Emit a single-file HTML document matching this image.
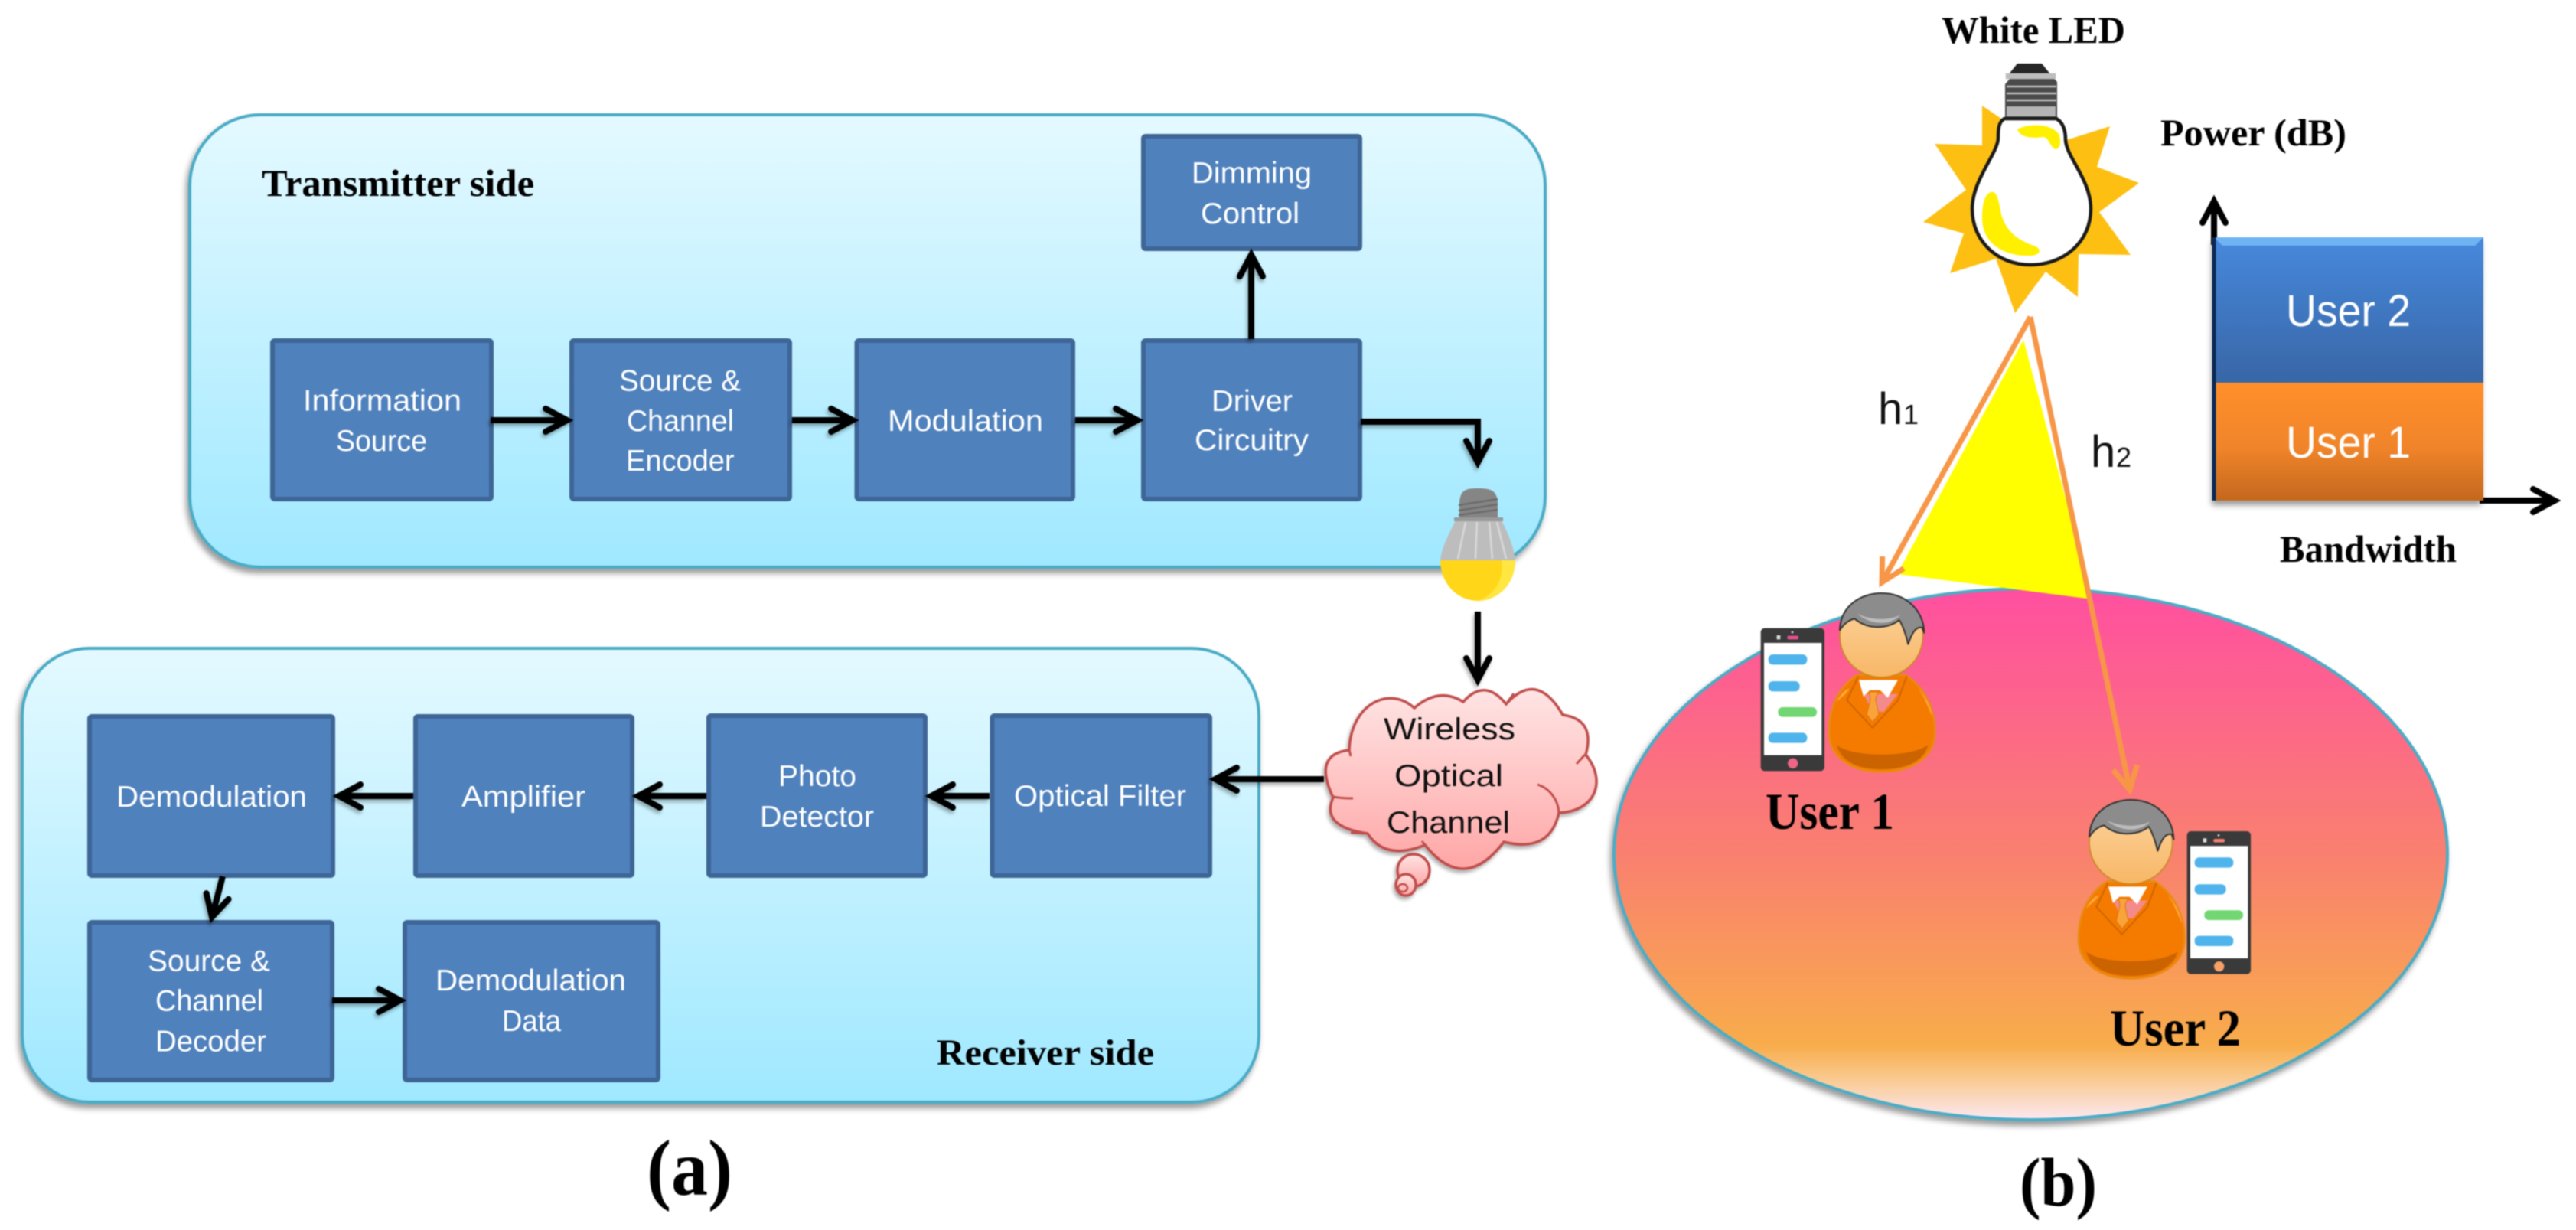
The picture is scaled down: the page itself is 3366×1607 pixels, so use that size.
<!DOCTYPE html>
<html lang="en">
<head>
<meta charset="utf-8">
<title>Diagram</title>
<style>
html,body{margin:0;padding:0;background:#fff;width:3366px;height:1607px;overflow:hidden}
svg{display:block;filter:blur(.8px)}
.b{fill:#4f81bd;stroke:#3e6596;stroke-width:6}
.t{font-family:"Liberation Sans",sans-serif;font-size:39px;fill:#fff}
.k{font-family:"Liberation Sans",sans-serif;font-size:40px;fill:#111}
.s{font-family:"Liberation Serif",serif;font-weight:bold;fill:#000}
.a{fill:none;stroke:#000;stroke-width:8}
.o{fill:none;stroke:#f79646;stroke-width:7}
</style>
</head>
<body>
<svg xmlns="http://www.w3.org/2000/svg" width="3366" height="1607" viewBox="0 0 3366 1607">
<defs>
<linearGradient id="lb" x1="0" y1="0" x2="0" y2="1"><stop offset="0" stop-color="#e4f9ff"/><stop offset="1" stop-color="#9fe8ff"/></linearGradient>
<linearGradient id="el" x1="0" y1="0" x2="0" y2="1"><stop offset="0" stop-color="#ff4fa0"/><stop offset=".5" stop-color="#f9806f"/><stop offset=".86" stop-color="#f8ac4b"/><stop offset=".92" stop-color="#f9c88c"/><stop offset="1" stop-color="#fbe8f2"/></linearGradient>
<linearGradient id="cl" x1="0" y1="0" x2="0" y2="1"><stop offset="0" stop-color="#ffe4e4"/><stop offset="1" stop-color="#ffa6a6"/></linearGradient>
<linearGradient id="u2" x1="0" y1="0" x2="0" y2="1"><stop offset="0" stop-color="#4788dc"/><stop offset="1" stop-color="#3866a6"/></linearGradient>
<linearGradient id="u1" x1="0" y1="0" x2="0" y2="1"><stop offset="0" stop-color="#ff8f2a"/><stop offset=".55" stop-color="#f0842a"/><stop offset="1" stop-color="#c4671e"/></linearGradient>
<linearGradient id="fa" x1="0" y1="0" x2="0" y2="1"><stop offset="0" stop-color="#fcd49f"/><stop offset="1" stop-color="#f7b766"/></linearGradient>
<marker id="m" markerUnits="userSpaceOnUse" markerWidth="70" markerHeight="60" refX="42" refY="30" orient="auto"><path d="M14,15 L42,30 L14,45" fill="none" stroke="#000" stroke-width="8" stroke-linecap="round"/></marker>
<marker id="mo" markerUnits="userSpaceOnUse" markerWidth="70" markerHeight="60" refX="42" refY="30" orient="auto"><path d="M12,14 L42,30 L12,46" fill="none" stroke="#f79646" stroke-width="7"/></marker>
<filter id="sh" x="-10%" y="-10%" width="120%" height="125%"><feDropShadow dx="-3" dy="6" stdDeviation="4" flood-color="#000" flood-opacity=".4"/></filter>
<filter id="sa" x="-20%" y="-50%" width="140%" height="200%"><feDropShadow dx="-2" dy="4" stdDeviation="2.5" flood-color="#000" flood-opacity=".3"/></filter>

<g id="person">
<path d="M440,365 C360,420 330,500 330,590 C330,690 420,745 535,745 C650,745 745,690 745,590 C745,500 710,420 630,365 Z" fill="#f57a00" stroke="#e98b12" stroke-width="8"/>
<path d="M360,640 C420,690 650,690 718,640 C700,710 620,735 535,735 C450,735 380,710 360,640Z" fill="#cb6400"/>
<path d="M360,470 C375,440 395,420 410,420 L395,440Z M680,420 C710,450 730,490 735,530 L700,450Z" fill="#ffa63a"/>
<path d="M465,440 L600,440 L545,510 L500,510Z" fill="#f48a8a"/>
<path d="M447,385 L600,385 L560,455 L530,425 L490,425 L465,450Z" fill="#fff"/>
<path d="M445,370 L400,465 L500,572 L600,465 L635,370" fill="none" stroke="#cf6500" stroke-width="6"/>
<path d="M488,432 L522,432 L512,460 L525,520 L500,550 L478,520 L492,460Z" fill="#f9a33a" stroke="#d97a10" stroke-width="3"/>
<circle cx="535" cy="212" r="163" fill="url(#fa)" stroke="#c88a20" stroke-width="5"/>
<path d="M372,190 C375,90 460,45 535,45 C630,45 700,110 703,200 L695,180 C670,175 655,200 640,245 C630,200 615,165 605,150 C570,180 490,195 430,145 C405,150 385,170 372,190 Z" fill="#8c8c8c" stroke="#333" stroke-width="6" stroke-linejoin="round"/>
<path d="M440,125 C500,155 570,150 610,130 C570,175 490,170 440,125Z" fill="#bcbcbc"/>
</g>

<g id="phone">
<rect x="62" y="182" width="250" height="560" rx="16" fill="#3a3a3a"/>
<rect x="75" y="240" width="226" height="440" fill="#fff"/>
<rect x="92" y="285" width="152" height="40" rx="18" fill="#4fb4ec"/>
<rect x="92" y="390" width="123" height="40" rx="18" fill="#4fb4ec"/>
<rect x="130" y="492" width="152" height="38" rx="18" fill="#72d672"/>
<rect x="92" y="592" width="152" height="40" rx="18" fill="#4fb4ec"/>
<rect x="125" y="210" width="14" height="16" fill="#ddd"/>
<circle cx="186" cy="198" r="4" fill="#ddd"/>
</g>
</defs>

<!-- Panels -->
<rect x="248" y="150" width="1771" height="591" rx="92" fill="url(#lb)" stroke="#4bacc6" stroke-width="4" filter="url(#sh)"/>
<rect x="29" y="847" width="1616" height="593" rx="88" fill="url(#lb)" stroke="#4bacc6" stroke-width="4" filter="url(#sh)"/>

<!-- TX boxes -->
<rect class="b" rx="3" x="356" y="445" width="286" height="207"/>
<rect class="b" rx="3" x="747" y="445" width="285" height="207"/>
<rect class="b" rx="3" x="1119.5" y="445" width="282.5" height="207"/>
<rect class="b" rx="3" x="1494" y="445" width="283" height="207"/>
<rect class="b" rx="3" x="1494" y="178" width="283" height="147"/>

<!-- RX boxes -->
<rect class="b" rx="3" x="117" y="936" width="318" height="208"/>
<rect class="b" rx="3" x="543" y="936" width="283" height="208"/>
<rect class="b" rx="3" x="926" y="935" width="283" height="209"/>
<rect class="b" rx="3" x="1296.5" y="935" width="284.5" height="209"/>
<rect class="b" rx="3" x="117" y="1205" width="317" height="206"/>
<rect class="b" rx="3" x="529" y="1205" width="331" height="206"/>

<!-- Arrows left -->
<g filter="url(#sa)">
<path class="a" marker-end="url(#m)" d="M641,549 H741"/>
<path class="a" marker-end="url(#m)" d="M1035,549 H1114"/>
<path class="a" marker-end="url(#m)" d="M1405,549 H1486"/>
<path class="a" marker-end="url(#m)" d="M1635,443 V333"/>
<path class="a" marker-end="url(#m)" d="M1778,551 H1931 V604"/>
<path class="a" marker-end="url(#m)" d="M1931,799 V888"/>
<path class="a" marker-end="url(#m)" d="M1730,1018 H1588"/>
<path class="a" marker-end="url(#m)" d="M1293,1040 H1217"/>
<path class="a" marker-end="url(#m)" d="M923,1040 H834"/>
<path class="a" marker-end="url(#m)" d="M540,1040 H443"/>
<path class="a" marker-end="url(#m)" d="M291,1145 L277,1198"/>
<path class="a" marker-end="url(#m)" d="M434,1307 H523"/>
</g>

<!-- TX text -->
<text class="s" x="342" y="256" font-size="50" textLength="356" lengthAdjust="spacingAndGlyphs">Transmitter side</text>
<text class="t" x="396" y="536.5" textLength="207" lengthAdjust="spacingAndGlyphs">Information</text>
<text class="t" x="439" y="589" textLength="119" lengthAdjust="spacingAndGlyphs">Source</text>
<text class="t" x="809" y="510.5" textLength="159" lengthAdjust="spacingAndGlyphs">Source &amp;</text>
<text class="t" x="819" y="563" textLength="140" lengthAdjust="spacingAndGlyphs">Channel</text>
<text class="t" x="818" y="615" textLength="141.5" lengthAdjust="spacingAndGlyphs">Encoder</text>
<text class="t" x="1160" y="563" textLength="203" lengthAdjust="spacingAndGlyphs">Modulation</text>
<text class="t" x="1583" y="537" textLength="106" lengthAdjust="spacingAndGlyphs">Driver</text>
<text class="t" x="1561" y="588" textLength="149" lengthAdjust="spacingAndGlyphs">Circuitry</text>
<text class="t" x="1557" y="239" textLength="157" lengthAdjust="spacingAndGlyphs">Dimming</text>
<text class="t" x="1569" y="292" textLength="129" lengthAdjust="spacingAndGlyphs">Control</text>

<!-- RX text -->
<text class="s" x="1224" y="1391" font-size="48" textLength="284" lengthAdjust="spacingAndGlyphs">Receiver side</text>
<text class="t" x="152" y="1054" textLength="249" lengthAdjust="spacingAndGlyphs">Demodulation</text>
<text class="t" x="603" y="1054" textLength="162" lengthAdjust="spacingAndGlyphs">Amplifier</text>
<text class="t" x="1017" y="1027" textLength="102" lengthAdjust="spacingAndGlyphs">Photo</text>
<text class="t" x="993" y="1080" textLength="149" lengthAdjust="spacingAndGlyphs">Detector</text>
<text class="t" x="1325" y="1053" textLength="225" lengthAdjust="spacingAndGlyphs">Optical Filter</text>
<text class="t" x="193" y="1268.5" textLength="160" lengthAdjust="spacingAndGlyphs">Source &amp;</text>
<text class="t" x="203" y="1320.5" textLength="141" lengthAdjust="spacingAndGlyphs">Channel</text>
<text class="t" x="203" y="1373.5" textLength="145" lengthAdjust="spacingAndGlyphs">Decoder</text>
<text class="t" x="569" y="1294" textLength="249" lengthAdjust="spacingAndGlyphs">Demodulation</text>
<text class="t" x="656" y="1347" textLength="77" lengthAdjust="spacingAndGlyphs">Data</text>

<!-- Small LED bulb -->
<path d="M1902,680 H1962 C1972,700 1978,715 1980,732 H1882 C1884,715 1892,700 1902,680Z" fill="#bdbdbd"/>
<path d="M1915,682 L1905,730 M1930,682 L1928,730 M1946,682 L1950,730 M1956,682 L1968,730" stroke="#d8d8d8" stroke-width="2.5" fill="none"/>
<rect x="1900" y="676" width="64" height="5" fill="#9a9a9a"/>
<path d="M1907,676 V655 C1909,640 1915,638 1932,638 C1950,638 1955,642 1957,655 V676Z" fill="#858585"/>
<path d="M1906,660 L1957,652 M1906,667 L1957,659 M1906,673 L1957,666" stroke="#6c6c6c" stroke-width="2.5" fill="none"/>
<path d="M1882,732 H1980 C1980,762 1958,785 1931,785 C1904,785 1882,762 1882,732Z" fill="#ffd618"/>
<path d="M1962,732 H1980 C1980,762 1958,785 1931,785 C1950,778 1966,760 1962,732Z" fill="#ffe640"/>

<!-- Cloud -->
<g filter="url(#sa)">
<path fill="url(#cl)" stroke="#c0504d" stroke-width="3.5" d="M1848,925 Q1880,897 1912,917 Q1940,885 1968,920 Q2008,875 2042,934 Q2085,940 2072,986 C2100,1020 2085,1060 2037,1062 Q2025,1115 1965,1100 Q1913,1168 1862,1104 Q1810,1125 1787,1089 Q1725,1080 1742,1042 Q1715,985 1763,980 C1765,920 1815,895 1848,925Z"/>
<ellipse cx="1847" cy="1137" rx="21" ry="21" fill="url(#cl)" stroke="#c0504d" stroke-width="3.5"/>
<ellipse cx="1837" cy="1156" rx="13" ry="14" fill="url(#cl)" stroke="#c0504d" stroke-width="3.5"/>
<ellipse cx="1833" cy="1160" rx="6" ry="5" fill="none" stroke="#c0504d" stroke-width="2.5"/>
</g>
<path d="M2071,986 L2060,998 M2009,1025 C2025,1030 2036,1045 2037,1062 M1742,1041 Q1752,1043 1768,1043 M1787,1089 L1765,1088 M1763,980 L1765,988 M1968,920 L1978,906 M1862,1104 L1858,1099" fill="none" stroke="#c0504d" stroke-width="3"/>
<text class="k" x="1808" y="966" textLength="172" lengthAdjust="spacingAndGlyphs">Wireless</text>
<text class="k" x="1822" y="1027" textLength="142" lengthAdjust="spacingAndGlyphs">Optical</text>
<text class="k" x="1812" y="1088" textLength="161" lengthAdjust="spacingAndGlyphs">Channel</text>

<!-- (a) -->
<text class="s" x="845" y="1561" font-size="104" textLength="112" lengthAdjust="spacingAndGlyphs">(a)</text>

<!-- Ellipse -->
<ellipse cx="2653.5" cy="1116" rx="544.5" ry="347" fill="url(#el)" stroke="#4bacc6" stroke-width="4" filter="url(#sh)"/>

<!-- Yellow beam -->
<polygon points="2644,444 2479,750 2734,783" fill="#ffff00"/>

<!-- Orange arrows -->
<path class="o" marker-end="url(#mo)" d="M2653,414 L2459,761"/>
<path class="o" marker-end="url(#mo)" d="M2653,414 L2783,1032"/>

<!-- Starburst and white LED -->
<polygon fill="#fdbf12" points="2590,138 2615,155 2700,183 2757,165 2740,218 2795,239 2743,277 2784,333 2716,332 2715,388 2673,355 2633,409 2608,338 2548,357 2566,305 2513,290 2569,248 2528,188 2590,190"/>
<path d="M2619,155 C2611,160 2611,170 2611,180 C2611,200 2577,235 2577,273 C2577,315 2610,346 2653,346 C2698,346 2732,315 2732,273 C2732,235 2700,205 2699,183 C2699,170 2696,160 2687,155Z" fill="#fff" stroke="#1a1a1a" stroke-width="4.5"/>
<path d="M2636,169 C2650,161 2680,161 2690,175 C2694,185 2692,195 2686,195 C2678,192 2678,180 2670,179 C2655,181 2640,180 2636,169Z" fill="#fff000"/>
<path d="M2601,251 C2610,248 2612,265 2615,280 C2622,305 2640,315 2660,322 C2668,326 2666,333 2655,334 C2625,336 2590,322 2590,285 C2590,270 2592,255 2601,251Z" fill="#fff000"/>
<path d="M2620,153 V110 L2643,83 H2667 L2688,107 V153Z" fill="#4a4a4a"/>
<path d="M2636,83 H2668 L2680,98 H2624Z" fill="#262626"/>
<rect x="2622" y="139" width="64" height="13" fill="#b4b4b4"/>
<path d="M2622,97 H2685 V102 H2622Z M2622,113 H2687 M2622,122 H2687 M2622,131 H2687" stroke="#bdbdbd" stroke-width="2.5" fill="#bdbdbd"/>

<text class="s" x="2537" y="56" font-size="50" textLength="240" lengthAdjust="spacingAndGlyphs">White LED</text>
<text class="s" x="2823" y="190" font-size="50" textLength="243" lengthAdjust="spacingAndGlyphs">Power (dB)</text>
<text class="s" x="2979" y="734" font-size="50" textLength="231" lengthAdjust="spacingAndGlyphs">Bandwidth</text>

<!-- h labels -->
<text class="k" x="2454" y="554" style="font-size:58px">h</text>
<text class="k" x="2487" y="554" style="font-size:36px">1</text>
<text class="k" x="2732" y="610" style="font-size:58px">h</text>
<text class="k" x="2765" y="610" style="font-size:36px">2</text>

<!-- Bar chart -->
<path class="a" marker-end="url(#m)" d="M2893,320 V263"/>
<path class="a" marker-end="url(#m)" d="M3240,654 H3338"/>
<g filter="url(#sh)">
<rect x="2893" y="310" width="352" height="190" fill="url(#u2)"/>
<rect x="2893" y="500" width="352" height="154" fill="url(#u1)"/>
</g>
<polygon points="2893,310 3245,310 3234,321 2904,321" fill="#6eb3f2"/>
<path d="M2893,310 V654" stroke="#0a2a55" stroke-width="5" fill="none"/>
<text class="t" x="2987" y="426" textLength="163" lengthAdjust="spacingAndGlyphs" style="font-size:58px">User 2</text>
<text class="t" x="2987" y="598" textLength="163" lengthAdjust="spacingAndGlyphs" style="font-size:58px">User 1</text>

<!-- Users -->
<g transform="translate(2280,760) scale(.33333)">
<use href="#phone"/>
<rect x="166" y="212" width="44" height="14" rx="6" fill="#e9508f"/>
<circle cx="188" cy="712" r="20" fill="#f06585"/>
<use href="#person"/>
</g>
<g transform="translate(2837,1025.3) scale(.33333)">
<use href="#phone"/>
<rect x="166" y="212" width="44" height="14" rx="6" fill="#f47f6e"/>
<circle cx="188" cy="712" r="20" fill="#f7a068"/>
</g>
<g transform="translate(2606,1030) scale(.33333)">
<use href="#person"/>
</g>

<text class="s" x="2307" y="1083" font-size="68" textLength="168" lengthAdjust="spacingAndGlyphs">User 1</text>
<text class="s" x="2757" y="1366" font-size="68" textLength="171" lengthAdjust="spacingAndGlyphs">User 2</text>
<text class="s" x="2639" y="1575" font-size="90" textLength="101" lengthAdjust="spacingAndGlyphs">(b)</text>
</svg>
</body>
</html>
